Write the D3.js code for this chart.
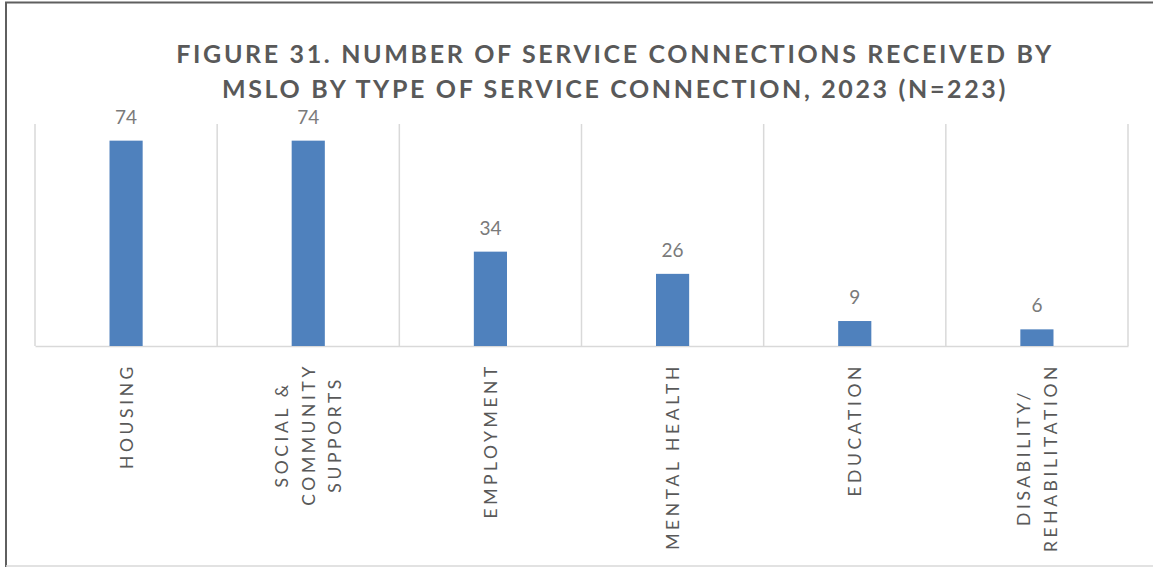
<!DOCTYPE html>
<html>
<head>
<meta charset="utf-8">
<script src="https://cdn.jsdelivr.net/npm/d3@7"></script>
<style>
  html, body { margin: 0; padding: 0; background: #fff; }
  svg { display: block; }
</style>
</head>
<body>
<svg id="chart" width="1153" height="567"></svg>
<script>
// Chart data
const titleLines = [
  "FIGURE 31. NUMBER OF SERVICE CONNECTIONS RECEIVED BY",
  "MSLO BY TYPE OF SERVICE CONNECTION, 2023 (N=223)"
];
const categories = ["Housing", "Social & Community Supports", "Employment", "Mental Health", "Education", "Disability/ Rehabilitation"];
const categoryLabelLines = [
  ["HOUSING"],
  ["SOCIAL &", "COMMUNITY", "SUPPORTS"],
  ["EMPLOYMENT"],
  ["MENTAL HEALTH"],
  ["EDUCATION"],
  ["DISABILITY/", "REHABILITATION"]
];
const values = [74, 74, 34, 26, 9, 6];
const yDomain = [0, 80];

const W = 1153, H = 567;
const margin = { left: 35, right: 25, top: 124, bottom: 221 };
const svg = d3.select("#chart");

// Outer frame: dark top and left edges, light bottom edge
svg.append("line").attr("x1", 5).attr("x2", W).attr("y1", 2.5).attr("y2", 2.5)
  .attr("stroke", "#5f5f5f").attr("stroke-width", 2);
svg.append("line").attr("x1", 6).attr("x2", 6).attr("y1", 2).attr("y2", H)
  .attr("stroke", "#5f5f5f").attr("stroke-width", 2);
svg.append("line").attr("x1", 6).attr("x2", W).attr("y1", 566).attr("y2", 566)
  .attr("stroke", "#d9d9d9").attr("stroke-width", 1.5);

const x = d3.scaleBand().domain(categories)
  .range([margin.left, W - margin.right]).padding(0);
const y = d3.scaleLinear().domain(yDomain).range([H - margin.bottom, margin.top]);

// Category separators (vertical gridlines at band edges)
const edges = categories.map(c => x(c)).concat([x(categories[categories.length - 1]) + x.bandwidth()]);
svg.append("g").selectAll("line").data(edges).join("line")
  .attr("x1", d => d).attr("x2", d => d)
  .attr("y1", y(yDomain[1])).attr("y2", y(0))
  .attr("stroke", "#d9d9d9").attr("stroke-width", 1.5);

// Baseline axis
const xAxis = svg.append("g").attr("transform", `translate(0,${y(0)})`)
  .call(d3.axisBottom(x).tickSize(0).tickFormat(""));
xAxis.select(".domain").attr("stroke", "#d9d9d9").attr("stroke-width", 1.5);

// Bars
const barW = x.bandwidth() * 0.182;
svg.append("g").selectAll("rect").data(values).join("rect")
  .attr("x", (d, i) => x(categories[i]) + x.bandwidth() / 2 - barW / 2)
  .attr("y", d => y(d))
  .attr("width", barW)
  .attr("height", d => y(0) - y(d))
  .attr("fill", "#4f81bd");

// Value labels
svg.append("g").selectAll("text").data(values).join("text")
  .attr("x", (d, i) => x(categories[i]) + x.bandwidth() / 2)
  .attr("y", d => y(d) - 17)
  .attr("text-anchor", "middle")
  .attr("font-family", "Lato, 'Open Sans', sans-serif")
  .attr("font-size", 19)
  .attr("fill", "#7a7a7a")
  .text(d => d);

// Rotated category labels: each block top-aligned below the axis, lines centred within it
const labelTop = y(0) + 17;
const lineGap = 26.5;
categoryLabelLines.forEach((lines, i) => {
  const cx = x(categories[i]) + x.bandwidth() / 2;
  const g = svg.append("g");
  const texts = g.selectAll("text").data(lines).join("text")
    .attr("font-family", "Lato, 'Open Sans', sans-serif")
    .attr("font-size", 17.5)
    .attr("letter-spacing", 3.6)
    .attr("fill", "#595959")
    .attr("text-anchor", "middle")
    .text(d => d);
  const maxLen = d3.max(texts.nodes(), n => n.getComputedTextLength());
  const cy = labelTop + maxLen / 2;
  texts.attr("transform", (d, k) => {
    const off = (k - (lines.length - 1) / 2) * lineGap;
    return `translate(${cx + off + 6.5},${cy}) rotate(-90)`;
  });
});

// Title
svg.append("g").selectAll("text").data(titleLines).join("text")
  .attr("x", 615)
  .attr("y", (d, i) => 63 + i * 35)
  .attr("text-anchor", "middle")
  .attr("font-family", "Lato, 'Open Sans', sans-serif")
  .attr("font-weight", "bold")
  .attr("font-size", 25)
  .attr("letter-spacing", 2.65)
  .attr("fill", "#595959")
  .text(d => d);
</script>
</body>
</html>
